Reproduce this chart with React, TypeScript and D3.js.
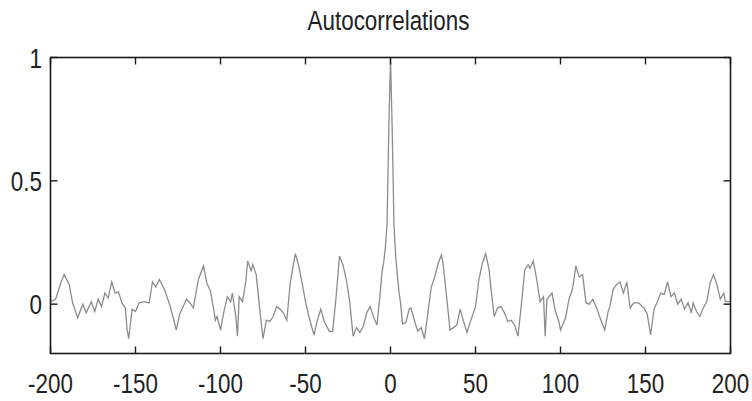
import React from "react";
import * as d3 from "d3";

const lags: number[] = [
  -200, -197, -194, -192, -189, -187, -184, -181, -179, -176, -174, -172, -170, -168, -166, -164, -162, -160, -158, -156, -155, -154, -152, -150, -148, -145, -142, -140, -138, -136, -133, -130, -128, -126, -124, -120, -118, -116, -113, -110, -108, -106, -104, -103, -102, -100, -98, -96, -94, -93, -91, -90, -89, -87, -85, -84, -82, -81, -79, -77, -75, -73, -71, -69, -67, -65, -63, -61, -59, -57, -56, -54, -52, -50, -48, -45, -43, -41, -39, -36, -34, -32, -30, -28, -26, -24, -22, -20, -18, -16, -14, -12, -10, -8, -7, -6, -5, -4, -3, -2, -1,
  0,
  1, 2, 3, 4, 5, 6, 7, 9, 11, 12, 14, 16, 18, 20, 22, 24, 26, 28, 30, 31, 33, 35, 37, 39, 41, 43, 45, 47, 50, 52, 54, 56, 58, 59, 61, 63, 65, 67, 69, 71, 73, 75, 77, 79, 81, 82, 84, 86, 88, 90, 91, 92, 95, 97, 99, 100, 103, 105, 107, 108, 109, 111, 113, 115, 117, 119, 121, 123, 126, 128, 129, 131, 133, 135, 137, 139, 141, 143, 146, 149, 151, 153, 155, 157, 159, 161, 163, 165, 167, 169, 171, 173, 175, 177, 178, 180, 182, 184, 186, 188, 190, 192, 194, 196, 197, 200,
];

const autocorr: number[] = [
  0.01, 0.02, 0.085, 0.12, 0.08, 0.005, -0.055, 0.0, -0.035, 0.01, -0.03, 0.02, -0.01, 0.045, 0.025, 0.09, 0.045, 0.05, 0.005, -0.015, -0.1, -0.14, -0.02, -0.03, 0.005, 0.01, 0.005, 0.09, 0.07, 0.1, 0.06, 0.0, -0.05, -0.105, -0.04, 0.02, 0.005, -0.015, 0.1, 0.155, 0.085, 0.055, -0.02, -0.065, -0.05, -0.105, -0.03, 0.03, 0.01, 0.045, -0.05, -0.13, 0.03, 0.01, 0.1, 0.175, 0.135, 0.16, 0.12, -0.015, -0.14, -0.065, -0.07, -0.05, -0.01, -0.02, -0.035, -0.065, 0.085, 0.165, 0.205, 0.155, 0.085, 0.01, -0.05, -0.125, -0.065, -0.02, -0.07, -0.11, -0.11, 0.03, 0.195, 0.16, 0.1, 0.01, -0.13, -0.095, -0.115, -0.09, -0.035, -0.01, -0.05, -0.085, -0.02, 0.05, 0.13, 0.17, 0.23, 0.33, 0.71,
  1.0,
  0.71, 0.33, 0.2, 0.12, 0.05, 0.0, -0.08, -0.075, -0.02, -0.015, -0.065, -0.11, -0.095, -0.14, -0.035, 0.07, 0.11, 0.165, 0.2, 0.16, 0.03, -0.105, -0.095, -0.085, -0.02, -0.07, -0.115, -0.07, -0.01, 0.1, 0.165, 0.205, 0.14, 0.07, -0.05, -0.015, -0.01, -0.035, -0.07, -0.065, -0.085, -0.13, 0.0, 0.14, 0.16, 0.145, 0.175, 0.1, 0.01, 0.03, -0.13, 0.02, 0.045, -0.03, -0.07, -0.105, -0.055, 0.02, 0.06, 0.105, 0.155, 0.11, 0.12, 0.005, 0.0, 0.02, -0.01, -0.05, -0.105, -0.03, -0.01, 0.06, 0.08, 0.09, 0.045, 0.09, -0.015, 0.005, 0.005, -0.015, -0.04, -0.125, -0.02, 0.01, 0.045, 0.04, 0.09, 0.03, 0.045, 0.0, 0.02, -0.02, 0.005, -0.035, 0.005, -0.03, -0.05, -0.015, 0.01, 0.085, 0.12, 0.08, 0.02, 0.045, 0.01, 0.01,
];

const xTicks: number[] = [-200, -150, -100, -50, 0, 50, 100, 150, 200];
const yTicks: number[] = [0, 0.5, 1];
const yTickLabels: string[] = ["0", "0.5", "1"];
const title = "Autocorrelations";

const W = 752;
const H = 401;
const left = 50.5;
const right = 730.5;
const top = 57.5;
const bottom = 353.5;
const tickLen = 7;
const font = "'Liberation Sans', Arial, sans-serif";
const sx = 0.8;

function NarrowText(props: {
  x: number;
  y: number;
  anchor: "start" | "middle" | "end";
  size: number;
  children: string;
}) {
  return (
    <text
      transform={`translate(${props.x},${props.y}) scale(${sx},1)`}
      textAnchor={props.anchor}
      fontFamily={font}
      fontSize={props.size}
      fill="#222"
    >
      {props.children}
    </text>
  );
}

export default function App() {
  const x = d3.scaleLinear().domain([-200, 200]).range([left, right]);
  const y = d3.scaleLinear().domain([-0.2, 1]).range([bottom, top]);
  const pts: [number, number][] = lags.map((l, i) => [l, autocorr[i]]);
  const line = d3
    .line<[number, number]>()
    .x((d) => x(d[0]))
    .y((d) => y(d[1]));

  return (
    <svg
      width={W}
      height={H}
      style={{ position: "absolute", left: 0, top: 0, background: "#fff" }}
    >
      <rect x={0} y={0} width={W} height={H} fill="#fff" />
      <NarrowText x={(left + right) / 2 - 2} y={30} anchor="middle" size={28}>
        {title}
      </NarrowText>
      <path d={line(pts) || ""} fill="none" stroke="#8c8c8c" strokeWidth={1.3} />
      <rect
        x={left}
        y={top}
        width={right - left}
        height={bottom - top}
        fill="none"
        stroke="#1a1a1a"
        strokeWidth={1.6}
      />
      {xTicks.map((t) => (
        <g key={"x" + t}>
          <line x1={x(t)} x2={x(t)} y1={bottom} y2={bottom - tickLen} stroke="#1a1a1a" strokeWidth={1.4} />
          <line x1={x(t)} x2={x(t)} y1={top} y2={top + tickLen} stroke="#1a1a1a" strokeWidth={1.4} />
          <NarrowText x={x(t)} y={393} anchor="middle" size={28}>
            {String(t)}
          </NarrowText>
        </g>
      ))}
      {yTicks.map((t, i) => (
        <g key={"y" + t}>
          <line x1={left} x2={left + tickLen} y1={y(t)} y2={y(t)} stroke="#1a1a1a" strokeWidth={1.4} />
          <line x1={right} x2={right - tickLen} y1={y(t)} y2={y(t)} stroke="#1a1a1a" strokeWidth={1.4} />
          <NarrowText x={42} y={y(t) + 10} anchor="end" size={28}>
            {yTickLabels[i]}
          </NarrowText>
        </g>
      ))}
    </svg>
  );
}
